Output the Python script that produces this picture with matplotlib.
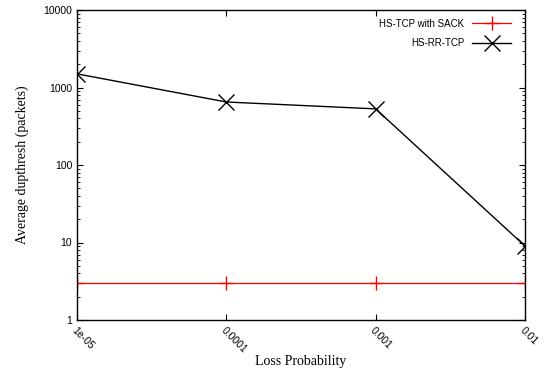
import numpy as np
import matplotlib
matplotlib.use("Agg")
import matplotlib.pyplot as plt
from matplotlib.ticker import LogLocator, FixedLocator, NullFormatter

# data
loss_prob = [1e-05, 1e-04, 1e-03, 1e-02]
tick_labels = ["1e-05", "0.0001", "0.001", "0.01"]
hs_tcp_sack = [3, 3, 3, 3]
hs_rr_tcp = [1500, 650, 530, 9]

fig = plt.figure(figsize=(5.57, 3.79), dpi=100)
ax = fig.add_axes([77 / 557, 1 - 320 / 379, (525 - 77) / 557, (320 - 10) / 379])

ax.plot(loss_prob, hs_tcp_sack, color="#ff0000", lw=0.9, marker="+", ms=10,
        mew=1.0, label="HS-TCP with SACK")
ax.plot(loss_prob, hs_rr_tcp, color="black", lw=1.0, marker="x", ms=11,
        mew=1.0, label="HS-RR-TCP")

ax.set_xscale("log")
ax.set_yscale("log")
ax.set_xlim(1e-05, 1e-02)
ax.set_ylim(1, 10000)

ax.xaxis.set_major_locator(FixedLocator(loss_prob))
ax.xaxis.set_minor_locator(FixedLocator([]))
ax.set_xticklabels(tick_labels, rotation=-45, ha="left", va="top",
                   rotation_mode="anchor", fontsize=7.5, family="Liberation Sans")

ax.yaxis.set_major_locator(FixedLocator([1, 10, 100, 1000, 10000]))
ax.yaxis.set_minor_locator(LogLocator(base=10, subs=np.arange(2, 10)))
ax.yaxis.set_minor_formatter(NullFormatter())
ax.set_yticklabels(["1", "10", "100", "1000", "10000"], fontsize=7.5,
                   family="Liberation Sans")

ax.tick_params(which="both", direction="in", top=True, right=True)
ax.tick_params(which="major", length=4, width=0.8)
ax.tick_params(which="minor", length=2, width=0.6)
ax.tick_params(axis="x", pad=4)

for s in ax.spines.values():
    s.set_linewidth(1.0)

ax.set_xlabel("Loss Probability", family="Liberation Serif", fontsize=10, labelpad=0)
ax.set_ylabel("Average dupthresh (packets)", family="Liberation Serif", fontsize=10,
              labelpad=10)

ax.legend(loc="upper right", bbox_to_anchor=(1 - 5 / 448, 1), frameon=False,
          markerfirst=False, prop={"family": "Liberation Sans", "size": 7},
          handlelength=4, borderaxespad=0.5, labelspacing=0.95)

fig.savefig("out.png", dpi=100)
